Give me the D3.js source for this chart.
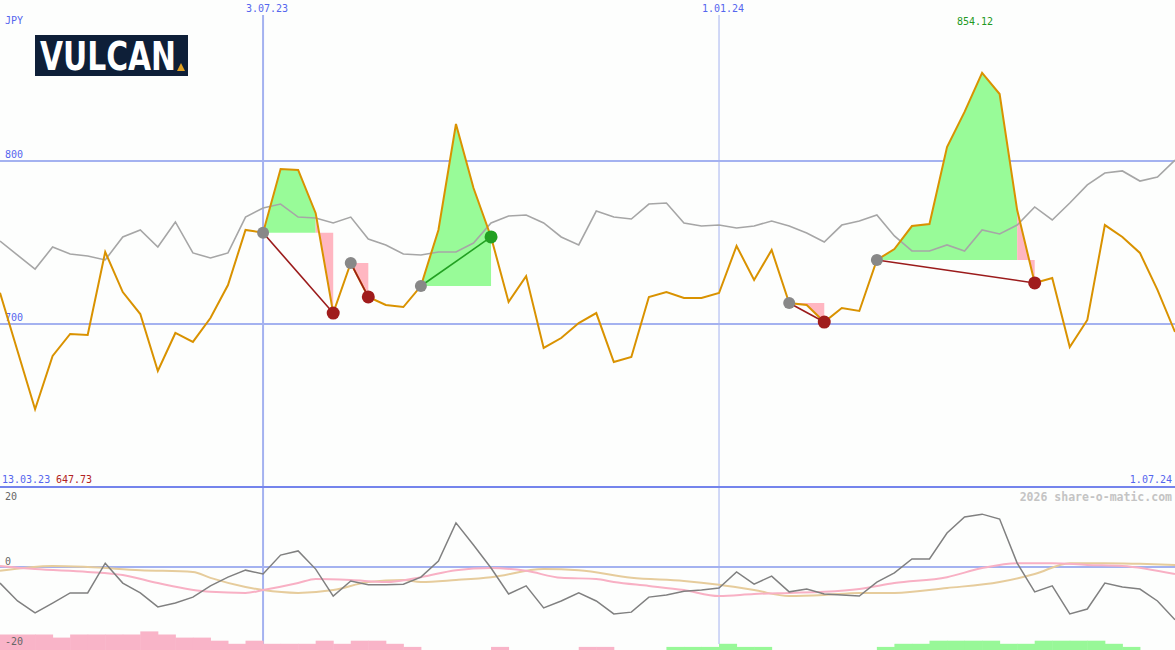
<!DOCTYPE html>
<html lang="de">
<head>
  <meta charset="UTF-8">
  <title>VULCAN JPY</title>
  <style>
    body { margin: 0; padding: 0; background: #fdfefd; }
    svg { display: block; background: #fdfefd; }
    text { font-family: "DejaVu Sans Mono", monospace; }
  </style>
  <script src="https://d3js.org/d3.v7.min.js"></script>
</head>
<body>
  <svg width="1175" height="650"></svg>
  <script>
    // price (orange), one value per week, index 0 = 13.03.23
    const price = [719.2, 683.4, 647.73, 680.4, 693.9, 693.3, 744.2, 719.6, 706.1, 671.2,
      694.5, 689.0, 703.7, 723.9, 757.7, 756.0, 795.1, 794.5, 768.0, 706.7,
      737.4, 716.6, 711.7, 710.4, 723.3, 757.7, 822.7, 783.4, 753.4, 713.5,
      729.4, 685.3, 691.4, 700.6, 706.7, 676.7, 679.8, 716.6, 719.6, 716.0,
      716.0, 719.0, 747.9, 727.0, 745.4, 712.9, 711.7, 701.2, 709.8, 708.0,
      739.3, 746.0, 760.1, 761.3, 808.6, 830.1, 854.12, 841.1, 769.9, 725.2,
      728.2, 685.9, 702.5, 760.7, 753.4, 743.6, 720.9, 695.1];
    // comparison line (gray)
    const bench = [750.9, 742.3, 733.7, 747.2, 742.9, 741.7, 739.3, 753.4, 757.7, 747.2,
      762.6, 743.6, 740.5, 743.6, 765.6, 771.2, 773.6, 765.6, 765.0, 762.0,
      765.6, 752.1, 748.5, 742.9, 742.3, 744.2, 744.2, 749.7, 762.0, 766.3,
      766.9, 762.0, 753.4, 748.5, 769.3, 765.6, 764.4, 773.6, 774.2, 762.0,
      760.1, 760.7, 758.9, 760.1, 763.2, 760.1, 755.8, 750.3, 760.7, 763.2,
      766.9, 754.0, 744.8, 744.8, 748.5, 744.8, 757.7, 755.2, 760.7, 771.8,
      763.8, 774.2, 785.3, 792.6, 793.9, 787.7, 790.2, 800.6];
    // oscillator (dark gray)
    const osc = [-4.6, -9.7, -13.1, -10.3, -7.4, -7.4, 1.1, -4.6, -7.4, -11.4,
      -10.3, -8.6, -5.4, -2.9, -0.9, -2.0, 3.4, 4.6, -0.6, -8.3,
      -4.0, -5.1, -5.1, -4.9, -2.9, 1.7, 12.6, 6.3, -0.3, -7.7,
      -5.4, -11.7, -9.7, -7.4, -9.7, -13.4, -12.9, -8.6, -8.0, -6.9,
      -6.6, -6.0, -1.4, -4.9, -2.6, -7.1, -6.3, -7.7, -8.0, -8.3,
      -4.3, -1.7, 2.3, 2.3, 9.7, 14.3, 15.1, 13.7, 1.1, -7.1,
      -5.4, -13.4, -12.0, -4.6, -5.7, -6.3, -9.7, -15.1];
    // smooth signal lines, [index, value]
    const pinkSig = [[0, 0.3], [2, -0.6], [5, -1.4], [7, -2.3], [9, -4.6], [12, -7.1], [14, -7.4],
      [15, -6.6], [17, -4.6], [18, -3.4], [20, -3.7], [22, -4.3], [24, -2.9], [26, -0.9],
      [28, -0.3], [30, -1.1], [32, -3.1], [34, -3.4], [35, -4.3], [37, -5.4], [39, -6.6],
      [41, -8.3], [43, -7.7], [45, -7.4], [47, -7.1], [49, -6.3], [51, -4.6], [54, -2.9],
      [56, -0.3], [58, 1.1], [60, 1.1], [62, 0.6], [64, 0.3], [67, -2.0]];
    const tanSig = [[0, -1.1], [3, 0.3], [5, 0], [8, -0.9], [11, -1.4], [12, -3.1], [14, -5.7],
      [15, -6.6], [17, -7.4], [19, -6.6], [21, -4.3], [23, -3.7], [24, -4.3], [26, -3.7],
      [28, -2.9], [31, -0.6], [33, -0.9], [36, -3.1], [39, -4.0], [41, -5.1], [43, -6.6],
      [45, -8.3], [47, -8.0], [49, -7.4], [51, -7.4], [54, -6.0], [57, -4.3], [59, -2.0],
      [61, 1.1], [63, 1.1], [65, 0.9], [67, 0.6]];
    // histogram at the bottom
    const hist = [-5, -5, -5, -4, -5, -5, -5, -5, -6, -5, -4, -4, -3, -2, -3, -2, -2, -2, -3, -2,
      -3, -3, -2, -1, 0, 0, 0, 0, -1, 0, 0, 0, 0, -1, -1, 0, 0, 0, 1, 1,
      1, 2, 1, 1, 0, 0, 0, 0, 0, 0, 1, 2, 2, 3, 3, 3, 3, 2, 2, 3,
      3, 3, 3, 2, 1, 0, 0, 0];
    // trades: start index, end index
    const trades = [{ s: 15, e: 19 }, { s: 20, e: 21 }, { s: 24, e: 28 }, { s: 45, e: 47 }, { s: 50, e: 59 }];
    const priceTicks = [700, 800];
    const oscTicks = [20, 0, -20];
    const dateTicks = [{ i: 15, label: "3.07.23", w: 2 }, { i: 41, label: "1.01.24", w: 1 }];
    const startLabel = "13.03.23", endLabel = "1.07.24";

    const svg = d3.select("svg");
    const W = 1175, H = 650;

    const x = d3.scaleLinear().domain([0, price.length - 1]).range([0, W]);
    const y = d3.scaleLinear().domain([700, 800]).range([324, 161]);
    const yo = d3.scaleLinear().domain([0, 20]).range([567, 497]);

    const grid = "#a4b2f0";

    // vertical date lines
    dateTicks.forEach(d => {
      svg.append("line").attr("x1", x(d.i)).attr("x2", x(d.i)).attr("y1", 15).attr("y2", 644)
        .attr("stroke", grid).attr("stroke-width", d.w);
      svg.append("text").attr("x", x(d.i) + 4).attr("y", 12).attr("text-anchor", "middle")
        .attr("font-size", 10).attr("fill", "#5566ee").text(d.label);
    });

    // price grid lines
    priceTicks.forEach(t => {
      svg.append("line").attr("x1", 0).attr("x2", W).attr("y1", y(t)).attr("y2", y(t))
        .attr("stroke", grid).attr("stroke-width", 2);
      svg.append("text").attr("x", 5).attr("y", y(t) - 3).attr("font-size", 10)
        .attr("fill", "#5566ee").text(t);
    });

    // separator
    svg.append("line").attr("x1", 0).attr("x2", W).attr("y1", 487).attr("y2", 487)
      .attr("stroke", "#7484ec").attr("stroke-width", 2);

    // oscillator zero line
    svg.append("line").attr("x1", 0).attr("x2", W).attr("y1", yo(0)).attr("y2", yo(0))
      .attr("stroke", grid).attr("stroke-width", 2);

    // trade fills: runs of segments, green while the segment ends above the entry level
    trades.forEach(t => {
      const lvl = price[t.s];
      let run = [t.s];
      let up = price[t.s + 1] >= lvl;
      const flush = () => {
        svg.append("path")
          .datum(run)
          .attr("d", d3.area().x(j => x(j)).y0(y(lvl)).y1(j => y(price[j])))
          .attr("fill", up ? "#98fb98" : "#ffb6c1");
      };
      for (let i = t.s; i < t.e; i++) {
        const u = price[i + 1] >= lvl;
        if (u !== up) {
          flush();
          run = [i];
          up = u;
        }
        run.push(i + 1);
      }
      flush();
    });

    const line = d3.line().x((d, i) => x(i)).y(d => y(d));

    svg.append("path").datum(bench).attr("d", line)
      .attr("fill", "none").attr("stroke", "#a6a6a6").attr("stroke-width", 1.6);
    svg.append("path").datum(price).attr("d", line)
      .attr("fill", "none").attr("stroke", "#d99200").attr("stroke-width", 2);

    // trade connectors and dots
    trades.forEach(t => {
      const win = price[t.e] > price[t.s];
      const col = win ? "#22a022" : "#a01c1c";
      svg.append("line").attr("x1", x(t.s)).attr("y1", y(price[t.s]))
        .attr("x2", x(t.e)).attr("y2", y(price[t.e]))
        .attr("stroke", win ? "#22a022" : "#9b1b1b").attr("stroke-width", 1.6);
      svg.append("circle").attr("cx", x(t.s)).attr("cy", y(price[t.s])).attr("r", 6)
        .attr("fill", "#888888");
      svg.append("circle").attr("cx", x(t.e)).attr("cy", y(price[t.e])).attr("r", 6.5)
        .attr("fill", col);
    });

    // oscillator lines
    const sig = d3.line().curve(d3.curveMonotoneX).x(d => x(d[0])).y(d => yo(d[1]));
    svg.append("path").datum(tanSig).attr("d", sig)
      .attr("fill", "none").attr("stroke", "#e6cc9c").attr("stroke-width", 2);
    svg.append("path").datum(pinkSig).attr("d", sig)
      .attr("fill", "none").attr("stroke", "#f8b0c4").attr("stroke-width", 2);
    svg.append("path").datum(osc).attr("d", d3.line().x((d, i) => x(i)).y(d => yo(d)))
      .attr("fill", "none").attr("stroke", "#808080").attr("stroke-width", 1.5);

    // histogram bars from the bottom edge
    const hs = 3.1;
    svg.selectAll("rect.hist").data(hist).enter().append("rect")
      .attr("class", "hist")
      .attr("x", (d, i) => x(i))
      .attr("width", x(1) - x(0) + 0.5)
      .attr("y", d => H - Math.abs(d) * hs)
      .attr("height", d => Math.abs(d) * hs)
      .attr("fill", d => d < 0 ? "#f9b4c8" : "#98f898");

    // oscillator labels
    oscTicks.forEach(t => {
      svg.append("text").attr("x", 5).attr("y", t === 20 ? 500 : (t === 0 ? 565 : 645))
        .attr("font-size", 10).attr("fill", "#666").text(t);
    });

    // texts
    svg.append("text").attr("x", 5).attr("y", 24).attr("font-size", 10).attr("fill", "#5566ee").text("JPY");
    const iMax = price.indexOf(d3.max(price));
    const iMin = price.indexOf(d3.min(price));
    svg.append("text").attr("x", x(iMax) - 7).attr("y", 25).attr("text-anchor", "middle")
      .attr("font-size", 10).attr("fill", "#229922").text(d3.max(price).toFixed(2));
    svg.append("text").attr("x", 2).attr("y", 483).attr("font-size", 10).attr("fill", "#5566ee").text(startLabel);
    svg.append("text").attr("x", 56).attr("y", 483).attr("font-size", 10).attr("fill", "#b22222")
      .text(price[iMin].toFixed(2));
    svg.append("text").attr("x", 1172).attr("y", 483).attr("text-anchor", "end")
      .attr("font-size", 10).attr("fill", "#5566ee").text(endLabel);
    svg.append("text").attr("x", 1172).attr("y", 501).attr("text-anchor", "end")
      .attr("font-size", 11.5).attr("font-weight", "bold").attr("fill", "#c4c4c4")
      .text("2026 share-o-matic.com");

    // logo
    const logo = svg.append("g");
    logo.append("rect").attr("x", 35).attr("y", 35).attr("width", 153).attr("height", 41).attr("fill", "#0e1f38");
    logo.append("text").attr("x", 40).attr("y", 70)
      .style("font-family", "'DejaVu Sans', sans-serif")
      .attr("font-weight", "bold").attr("font-size", 39).attr("fill", "#ffffff")
      .attr("textLength", 136).attr("lengthAdjust", "spacingAndGlyphs").text("VULCAN");
    logo.append("path").attr("d", "M177,71 L181,63 L185,71 Z").attr("fill", "#e0a020");
  </script>
</body>
</html>
